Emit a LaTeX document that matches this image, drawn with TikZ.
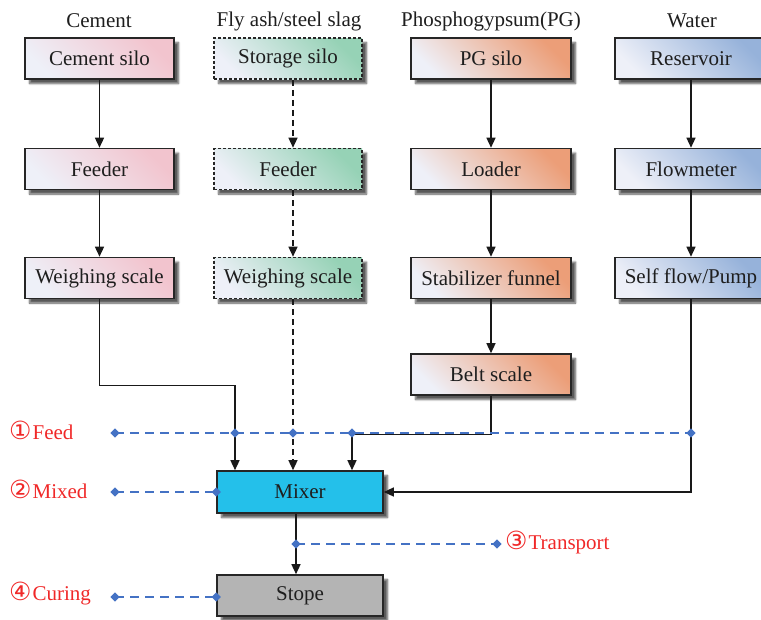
\documentclass[tikz,border=0pt]{standalone}
\usepackage{fontspec}
\setmainfont{Liberation Serif}
\newfontfamily\circfont{DejaVu Sans}
\usetikzlibrary{arrows.meta,shadows.blur,shapes.geometric,calc}
\definecolor{lowc}{RGB}{238,240,248}
\definecolor{pinkc}{RGB}{242,196,206}
\definecolor{greenc}{RGB}{150,210,182}
\definecolor{orangec}{RGB}{236,158,120}
\definecolor{bluec}{RGB}{150,178,218}
\definecolor{mixc}{RGB}{36,192,234}
\definecolor{stopec}{RGB}{180,180,180}
\definecolor{dashblue}{RGB}{68,114,196}
\definecolor{redc}{RGB}{240,40,40}
\definecolor{txtc}{RGB}{30,30,30}
\begin{document}
\begin{tikzpicture}[x=1pt,y=-1pt,
  font=\fontsize{21}{25}\selectfont,
  box/.style={draw=black!85, line width=1.6pt, minimum height=41pt, inner sep=0pt, text=txtc,
    blur shadow={shadow xshift=4.5pt, shadow yshift=-4.5pt, shadow blur steps=6, shadow opacity=65}},
  pinkbox/.style={box, minimum width=149pt, top color=pinkc, bottom color=lowc, shading angle=-45},
  greenbox/.style={box, minimum width=148pt, top color=greenc, bottom color=lowc, shading angle=-45, dash pattern=on 3pt off 2pt},
  orangebox/.style={box, minimum width=160pt, top color=orangec, bottom color=lowc, shading angle=-45},
  bluebox/.style={box, minimum width=152pt, top color=bluec, bottom color=lowc, shading angle=-45},
  flow/.style={draw=black!90, line width=1.4pt, -{Triangle[length=10pt,width=9pt]}},
  bl/.style={draw=dashblue, line width=2.4pt, dash pattern=on 9pt off 6pt},
  dia/.style={diamond, fill=dashblue, inner sep=0pt, minimum size=9.5pt},
  lab/.style={text=redc, anchor=west, inner sep=0pt},
  head/.style={text=txtc, inner sep=0pt}]
\useasboundingbox (0,0) rectangle (761,619);
% headers
\node[head] (h1) at (99,21) {Cement};
\node[head] (h2) at (289,21) {Fly ash/steel slag};
\node[head] (h3) at (491,21) {Phosphogypsum(PG)};
\node[head] (h4) at (692,21) {Water};
% boxes
\node[pinkbox] (c1) at (99.5,58.5) {Cement silo};
\node[pinkbox] (c2) at (99.5,169) {Feeder};
\node[pinkbox] (c3) at (99.5,278) {Weighing scale};
\node[greenbox] (f1) at (288,58.5) {Storage silo};
\node[greenbox] (f2) at (288,169) {Feeder};
\node[greenbox] (f3) at (288,278) {Weighing scale};
\node[orangebox] (p1) at (491,58.5) {PG silo};
\node[orangebox] (p2) at (491,169) {Loader};
\node[orangebox] (p3) at (491,278) {Stabilizer funnel};
\node[orangebox] (p4) at (491,374.5) {Belt scale};
\node[bluebox] (w1) at (691,58.5) {Reservoir};
\node[bluebox] (w2) at (691,169) {Flowmeter};
\node[bluebox] (w3) at (691,278) {Self flow/Pump};
\node[box, fill=mixc, minimum width=166pt, minimum height=42pt] (mx) at (300,492) {Mixer};
\node[box, fill=stopec, minimum width=166pt, minimum height=41pt] (st) at (300,595.5) {Stope};
% column connectors
\draw[flow] (c1.south) -- (c2.north);
\draw[flow] (c2.south) -- (c3.north);
\draw[flow, dash pattern=on 6pt off 4pt] ([xshift=5pt]f1.south) -- ([xshift=5pt]f2.north);
\draw[flow, dash pattern=on 6pt off 4pt] ([xshift=5pt]f2.south) -- ([xshift=5pt]f3.north);
\draw[flow] (p1.south) -- (p2.north);
\draw[flow] (p2.south) -- (p3.north);
\draw[flow] (p3.south) -- (p4.north);
\draw[flow] (w1.south) -- (w2.north);
\draw[flow] (w2.south) -- (w3.north);
% into mixer
\draw[flow] (c3.south) -- ++(0,86) -| ([xshift=-65pt]mx.north);
\draw[flow, dash pattern=on 6pt off 4pt] ([xshift=5pt]f3.south) -- ([xshift=5pt]f3.south |- mx.north);
\draw[flow] (p4.south) -- ++(0,38.5) -| ([xshift=52pt]mx.north);
\draw[flow] (w3.south) |- (mx.east);
\draw[flow] ([xshift=-4pt]mx.south) -- ([xshift=-4pt]st.north);
% stage lines
\coordinate (feedL) at (115,433);
\coordinate (feedR) at (w3.south |- feedL);
\coordinate (feedA) at ([xshift=-65pt]mx.north |- feedL);
\coordinate (feedB) at ([xshift=5pt]f3.south |- feedL);
\coordinate (feedC) at ([xshift=52pt]mx.north |- feedL);
\draw[bl] (feedL) -- (feedR);
\coordinate (mixL) at (115,492);
\draw[bl] (mixL) -- (mx.west);
\coordinate (trA) at ([xshift=-4pt]mx.south |- 0,544);
\coordinate (trB) at (497,544);
\draw[bl] (trA) -- (trB);
\coordinate (curL) at (115,597);
\draw[bl] (curL) -- (curL -| st.west);
\node[dia] (d1) at (feedL) {};
\node[dia] (d2) at (feedA) {};
\node[dia] (d3) at (feedB) {};
\node[dia] (d4) at (feedC) {};
\node[dia] (d5) at (feedR) {};
\node[dia] (d6) at (mixL) {};
\node[dia] (d7) at (mx.west) {};
\node[dia] (d8) at (trA) {};
\node[dia] (d9) at (trB) {};
\node[dia] (d10) at (curL) {};
\node[dia] (d11) at (curL -| st.west) {};
% labels
\newcommand{\cnum}[1]{{\circfont\fontsize{25}{25}\selectfont #1}\kern1pt}
\node[lab] (l1) at (9,430) {\cnum{①}Feed};
\node[lab] (l2) at (9,489) {\cnum{②}Mixed};
\node[lab] (l3) at (505,542) {\cnum{③}Transport};
\node[lab] (l4) at (9,594) {\cnum{④}Curing};
\end{tikzpicture}
\end{document}
